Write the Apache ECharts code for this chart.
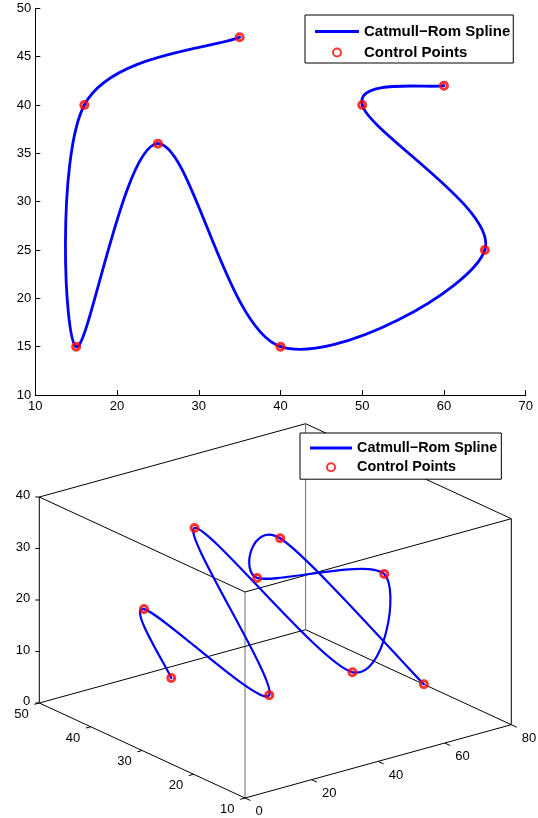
<!DOCTYPE html>
<html><head><meta charset="utf-8">
<script src="https://cdn.jsdelivr.net/npm/echarts@6/dist/echarts.min.js"></script>
<style>html,body{margin:0;padding:0;background:#fff}#c{width:538px;height:818px}</style>
</head><body><div id="c"></div>
<script>
// ---------- data: 2D plot ----------
const ctrlX = [35, 16, 15, 25, 40, 65, 50, 60];
const ctrlY = [47, 40, 15, 36, 15, 25, 40, 42];
const xTicks2d = [10, 20, 30, 40, 50, 60, 70];
const yTicks2d = [10, 15, 20, 25, 30, 35, 40, 45, 50];

// ---------- data: 3D plot ----------
const ctrl3X = [35, 16, 15, 25, 40, 65, 50, 60, 80];
const ctrl3Y = [47, 40, 15, 36, 15, 25, 40, 42, 27];
const ctrl3Z = [0, 20, 15, 36, 15, 25, 20, 25, 0];
const x3Ticks = [0, 20, 40, 60, 80];
const y3Ticks = [10, 20, 30, 40, 50];
const z3Ticks = [0, 10, 20, 30, 40];

const SPLINE = 'Catmull\u2212Rom Spline';
const CTRL = 'Control Points';
const FONT = '"Liberation Sans", Arial, Helvetica, sans-serif';

// ---------- 3D view (orthographic projection onto a hidden 2D grid) ----------
const X3R = [x3Ticks[0], x3Ticks[x3Ticks.length - 1]];
const Y3R = [y3Ticks[0], y3Ticks[y3Ticks.length - 1]];
const Z3R = [z3Ticks[0], z3Ticks[z3Ticks.length - 1]];
const VIEW = { o: [206, 0], ex: [266.3, 73.3], ey: [-205.7, 95], ez: [0, 206] };
function proj(x, y, z) {
  const a = (x - X3R[0]) / (X3R[1] - X3R[0]);
  const b = (y - Y3R[0]) / (Y3R[1] - Y3R[0]);
  const c = (z - Z3R[0]) / (Z3R[1] - Z3R[0]);
  return [VIEW.o[0] + a * VIEW.ex[0] + b * VIEW.ey[0] + c * VIEW.ez[0],
          VIEW.o[1] + a * VIEW.ex[1] + b * VIEW.ey[1] + c * VIEW.ez[1]];
}
function unit(x, y) { const l = Math.hypot(x, y); return [x / l, y / l]; }

// box corners and edges
const corners = [];
[0, 1].forEach(i => [0, 1].forEach(j => [0, 1].forEach(k => corners.push([i, j, k]))));
const edgeData = [];
for (let a = 0; a < corners.length; a++) for (let b = a + 1; b < corners.length; b++) {
  const ca = corners[a], cb = corners[b];
  const diff = (ca[0] !== cb[0]) + (ca[1] !== cb[1]) + (ca[2] !== cb[2]);
  if (diff !== 1) continue;
  const vertical = ca[2] !== cb[2];
  const gray = vertical && ca[0] === ca[1] ? 1 : 0;
  edgeData.push([X3R[ca[0]], Y3R[ca[1]], Z3R[ca[2]], X3R[cb[0]], Y3R[cb[1]], Z3R[cb[2]], gray]);
}
const tickData = [];
x3Ticks.forEach(v => tickData.push([0, v]));
y3Ticks.forEach(v => tickData.push([1, v]));
z3Ticks.forEach(v => tickData.push([2, v]));

const pts2d = ctrlX.map((x, i) => [x, ctrlY[i]]);
const pts3d = ctrl3X.map((x, i) => proj(x, ctrl3Y[i], ctrl3Z[i]));

// Catmull-Rom segment renderer (uniform, end points duplicated), drawn through the axes' coord()
function catmullRom(width) {
  return function (params, api) {
    const i = params.dataIndexInside;
    const n = params.dataInsideLength;
    if (i >= n - 1) return null;
    const get = k => {
      k = Math.max(0, Math.min(n - 1, k));
      return api.coord([api.value(0, k), api.value(1, k)]);
    };
    const p0 = get(i - 1), p1 = get(i), p2 = get(i + 1), p3 = get(i + 2);
    return {
      type: 'bezierCurve',
      shape: {
        x1: p1[0], y1: p1[1], x2: p2[0], y2: p2[1],
        cpx1: p1[0] + (p2[0] - p0[0]) / 6, cpy1: p1[1] + (p2[1] - p0[1]) / 6,
        cpx2: p2[0] - (p3[0] - p1[0]) / 6, cpy2: p2[1] - (p3[1] - p1[1]) / 6
      },
      style: { stroke: '#0000ff', lineWidth: width, fill: null, lineCap: 'round', lineJoin: 'round' }
    };
  };
}

const chart = echarts.init(document.getElementById('c'), null, { renderer: 'canvas' });
const axisCommon = {
  type: 'value',
  axisLine: { show: true, lineStyle: { color: '#000', width: 1 } },
  axisTick: { show: true, inside: true, length: 5, lineStyle: { color: '#000' } },
  splitLine: { show: false },
  axisLabel: { color: '#000', fontSize: 13, fontFamily: FONT }
};
const hiddenAxis = { type: 'value', show: false, splitLine: { show: false } };

const markerStyle = { color: 'rgba(0,0,0,0)', borderColor: '#ff0000', borderWidth: 3 };
const lineIcon = 'path://M0,0H44V3H0Z';

chart.setOption({
  animation: false,
  backgroundColor: '#fff',
  grid: [
    { left: 35.3, right: 12.3, top: 8.3, bottom: 423 },
    { left: 39, top: 425, width: 472, height: 373 }
  ],
  xAxis: [
    Object.assign({}, axisCommon, { gridIndex: 0, min: xTicks2d[0], max: xTicks2d[xTicks2d.length - 1], interval: xTicks2d[1] - xTicks2d[0],
      axisLabel: Object.assign({}, axisCommon.axisLabel, { margin: 5 }) }),
    Object.assign({}, hiddenAxis, { gridIndex: 1, min: 0, max: 472 })
  ],
  yAxis: [
    Object.assign({}, axisCommon, { gridIndex: 0, min: yTicks2d[0], max: yTicks2d[yTicks2d.length - 1], interval: yTicks2d[1] - yTicks2d[0],
      axisLabel: Object.assign({}, axisCommon.axisLabel, { margin: 4 }) }),
    Object.assign({}, hiddenAxis, { gridIndex: 1, min: 0, max: 373 })
  ],
  legend: [
    { data: [{ name: SPLINE, icon: lineIcon, itemStyle: { color: '#0000ff', borderWidth: 0 } }, CTRL],
      orient: 'vertical', left: 305, top: 15, padding: [9, 3, 3, 10],
      itemWidth: 44, itemHeight: 8, itemGap: 6, backgroundColor: '#fff', borderColor: '#000', borderWidth: 1,
      selectedMode: false, textStyle: { fontSize: 15, fontWeight: 'bold', fontFamily: FONT, color: '#000' } },
    { data: [{ name: SPLINE, icon: lineIcon, itemStyle: { color: '#0000ff', borderWidth: 0 } }, CTRL],
      orient: 'vertical', left: 300, top: 433, padding: [8, 4, 5, 10],
      itemWidth: 42, itemHeight: 8, itemGap: 5.2, backgroundColor: '#fff', borderColor: '#000', borderWidth: 1,
      selectedMode: false, textStyle: { fontSize: 14.4, fontWeight: 'bold', fontFamily: FONT, color: '#000' } }
  ],
  series: [
    { name: SPLINE, type: 'custom', xAxisIndex: 0, yAxisIndex: 0, data: pts2d, renderItem: catmullRom(2.8),
      itemStyle: { color: '#0000ff' }, silent: true, z: 2, clip: false },
    { name: CTRL, type: 'scatter', xAxisIndex: 0, yAxisIndex: 0, data: pts2d, symbol: 'circle', symbolSize: 7,
      itemStyle: markerStyle, silent: true, z: 3 },
    { type: 'custom', xAxisIndex: 1, yAxisIndex: 1, data: edgeData, silent: true, z: 1, clip: false,
      renderItem: (params, api) => {
        const p1 = api.coord(proj(api.value(0), api.value(1), api.value(2)));
        const p2 = api.coord(proj(api.value(3), api.value(4), api.value(5)));
        return { type: 'line', shape: { x1: p1[0], y1: p1[1], x2: p2[0], y2: p2[1] },
          style: { stroke: api.value(6) ? '#6e6e6e' : '#000', lineWidth: 1 } };
      } },
    { type: 'custom', xAxisIndex: 1, yAxisIndex: 1, data: tickData, silent: true, z: 1, clip: false,
      renderItem: (params, api) => {
        const axis = api.value(0), v = api.value(1);
        let p, dir, len, off, align;
        if (axis === 0) {
          p = proj(v, Y3R[0], Z3R[0]); dir = unit(-VIEW.ey[0], VIEW.ey[1]); len = 6; off = [10.5, 13.8]; align = 'left';
        } else if (axis === 1) {
          p = proj(X3R[0], v, Z3R[0]); dir = unit(-VIEW.ex[0], VIEW.ex[1]); len = 5; off = [-17.7, 11.4]; align = 'center';
        } else {
          p = proj(X3R[0], Y3R[1], v); dir = [-1, 0]; len = 4; off = [-9, -1.5]; align = 'right';
        }
        const c = api.coord(p);
        return { type: 'group', children: [
          { type: 'line', shape: { x1: c[0], y1: c[1], x2: c[0] + dir[0] * len, y2: c[1] + dir[1] * len },
            style: { stroke: '#000', lineWidth: 1 } },
          { type: 'text', style: { text: String(v), x: c[0] + off[0], y: c[1] + off[1], align: align,
            verticalAlign: 'middle', font: '13px ' + FONT, fill: '#000' } }
        ] };
      } },
    { name: SPLINE, type: 'custom', xAxisIndex: 1, yAxisIndex: 1, data: pts3d, renderItem: catmullRom(2.2),
      itemStyle: { color: '#0000ff' }, silent: true, z: 2, clip: false },
    { name: CTRL, type: 'scatter', xAxisIndex: 1, yAxisIndex: 1, data: pts3d, symbol: 'circle', symbolSize: 7,
      itemStyle: markerStyle, silent: true, z: 3 }
  ]
});
</script></body></html>
